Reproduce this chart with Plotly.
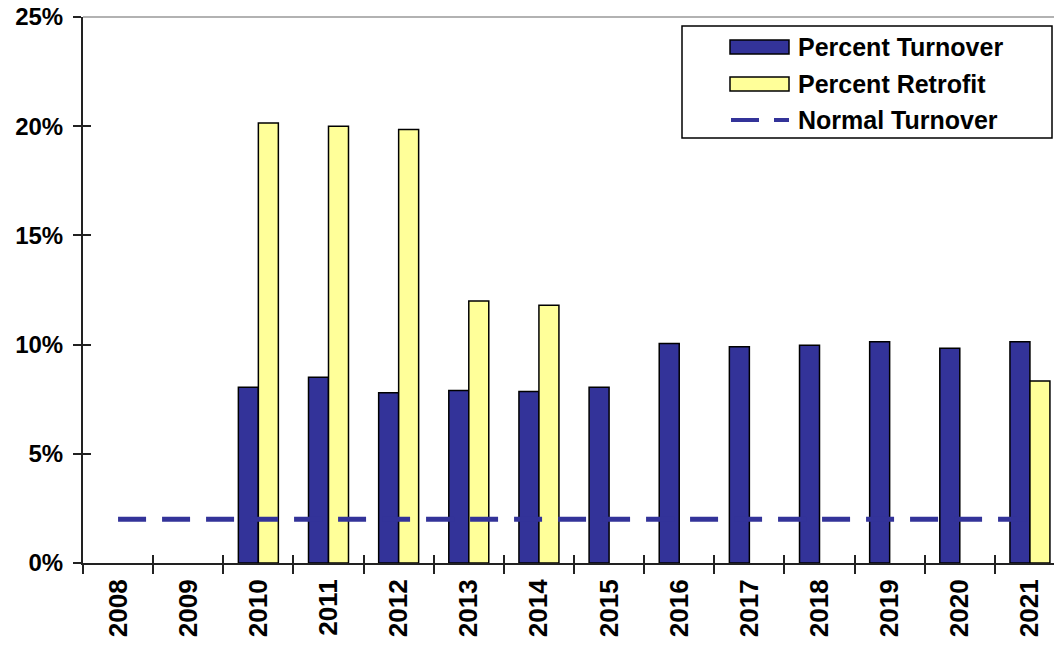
import plotly.graph_objects as go

years = ["2008", "2009", "2010", "2011", "2012", "2013", "2014",
         "2015", "2016", "2017", "2018", "2019", "2020", "2021"]
percent_turnover = [None, None, 8.05, 8.5, 7.8, 7.9, 7.85, 8.05, 10.05, 9.9, 9.97, 10.13, 9.83, 10.13]
percent_retrofit = [None, None, 20.15, 20.0, 19.85, 12.0, 11.8, None, None, None, None, None, None, 8.33]
normal_turnover = [2.0] * len(years)
y_tick_vals = [0, 5, 10, 15, 20, 25]
y_tick_text = ["0%", "5%", "10%", "15%", "20%", "25%"]

BLUE = "#333399"
YELLOW = "#FFFF99"
FONT = "Liberation Sans, Arial, sans-serif"

W, H = 1054, 646
L, T, R, B = 83, 17, 0, 83
pw = W - L - R
ph = H - T - B


def px_x(x):
    return (x - L) / pw


def px_y(y):
    return (H - B - y) / ph


fig = go.Figure()
fig.add_trace(go.Bar(x=years, y=percent_turnover, name="Percent Turnover",
                     marker=dict(color=BLUE, line=dict(color="black", width=1.5))))
fig.add_trace(go.Bar(x=years, y=percent_retrofit, name="Percent Retrofit",
                     marker=dict(color=YELLOW, line=dict(color="black", width=1.5))))
fig.add_trace(go.Scatter(x=years, y=normal_turnover, name="Normal Turnover", mode="lines",
                         line=dict(color=BLUE, width=5, dash="28px,16px")))
# invisible trace to carry the inside tick marks axes
fig.add_trace(go.Scatter(x=[0], y=[0], xaxis="x2", yaxis="y2", mode="markers",
                         marker=dict(opacity=0), hoverinfo="skip", showlegend=False))

xr = [-0.5, 13.343]
fig.update_layout(
    width=W, height=H,
    margin=dict(l=L, r=R, t=T, b=B, pad=0),
    paper_bgcolor="white", plot_bgcolor="white",
    barmode="group", bargap=0.43, bargroupgap=0,
    showlegend=False,
    font=dict(family=FONT, color="black"),
    xaxis=dict(type="category", range=xr, tickson="boundaries",
               ticks="outside", ticklen=9, tickwidth=1.5, tickcolor="#222",
               showline=True, linecolor="#222", linewidth=2,
               showgrid=False, zeroline=False, tickangle=-90,
               tickfont=dict(family=FONT, size=26, color="black", weight="bold"),
               ticklabelstandoff=4),
    yaxis=dict(range=[0, 25], tickvals=y_tick_vals, ticktext=y_tick_text,
               ticks="outside", ticklen=8, tickwidth=1.5, tickcolor="#222",
               showline=True, linecolor="#222", linewidth=2,
               showgrid=False, zeroline=False,
               tickfont=dict(family=FONT, size=24, color="black", weight="bold"),
               ticklabelstandoff=5),
    xaxis2=dict(overlaying="x", anchor="y2", range=xr, tick0=-0.5, dtick=1,
                ticks="inside", ticklen=8, tickwidth=1.5, tickcolor="#222",
                showticklabels=False, showline=False, showgrid=False, zeroline=False),
    yaxis2=dict(overlaying="y", anchor="x2", range=[0, 25], tickvals=y_tick_vals,
                ticks="inside", ticklen=8, tickwidth=1.5, tickcolor="#222",
                showticklabels=False, showline=False, showgrid=False, zeroline=False),
)

shapes = []
annotations = []
# top border line
shapes.append(dict(type="line", xref="paper", yref="paper", x0=0, x1=1, y0=1, y1=1,
                   line=dict(color="#999999", width=1.5)))
# legend box
shapes.append(dict(type="rect", xref="paper", yref="paper",
                   x0=px_x(682), x1=px_x(1052), y0=px_y(138), y1=px_y(26),
                   fillcolor="white", line=dict(color="black", width=1.5), layer="above"))
rows = [47, 84, 120]
shapes.append(dict(type="rect", xref="paper", yref="paper",
                   x0=px_x(730), x1=px_x(789), y0=px_y(rows[0] + 7), y1=px_y(rows[0] - 7),
                   fillcolor=BLUE, line=dict(color="black", width=1.5), layer="above"))
shapes.append(dict(type="rect", xref="paper", yref="paper",
                   x0=px_x(730), x1=px_x(789), y0=px_y(rows[1] + 7), y1=px_y(rows[1] - 7),
                   fillcolor=YELLOW, line=dict(color="black", width=1.5), layer="above"))
for a, b in [(731, 759), (774, 789)]:
    shapes.append(dict(type="line", xref="paper", yref="paper",
                       x0=px_x(a), x1=px_x(b), y0=px_y(rows[2]), y1=px_y(rows[2]),
                       line=dict(color=BLUE, width=4), layer="above"))
for name, r in zip(["Percent Turnover", "Percent Retrofit", "Normal Turnover"], rows):
    annotations.append(dict(text=name, xref="paper", yref="paper",
                            x=px_x(796), y=px_y(r), xanchor="left", yanchor="middle",
                            showarrow=False,
                            font=dict(family=FONT, size=25, color="black", weight="bold")))

fig.update_layout(shapes=shapes, annotations=annotations)

fig.write_html("out.html")
